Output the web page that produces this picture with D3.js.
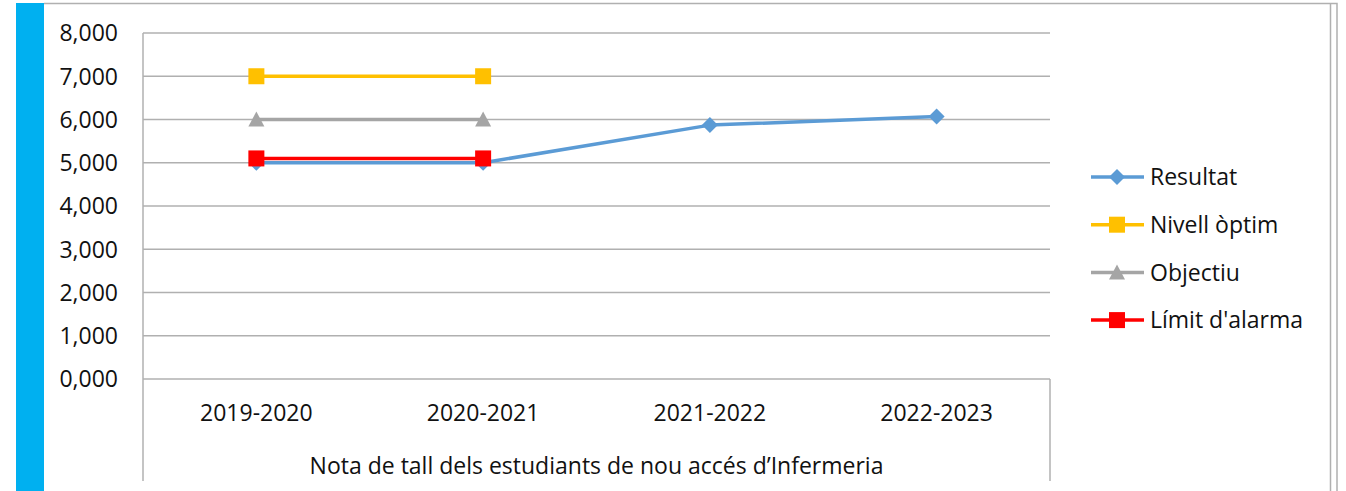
<!DOCTYPE html>
<html>
<head>
<meta charset="utf-8">
<script src="https://cdn.jsdelivr.net/npm/d3@7"></script>
<style>
  html, body { margin: 0; padding: 0; background: #fff; }
  svg { display: block; font-family: 'Open Sans', sans-serif; }
</style>
</head>
<body>
<svg id="chart" width="1346" height="491"></svg>
<script>
// data
const years = ['2019-2020', '2020-2021', '2021-2022', '2022-2023']
const resultat = [5.0, 5.0, 5.87, 6.07]
const nivellOptim = [7.0, 7.0, null, null]
const objectiu = [6.0, 6.0, null, null]
const limitAlarma = [5.1, 5.1, null, null]
const yTicks = [0, 1, 2, 3, 4, 5, 6, 7, 8]
const xTitle = 'Nota de tall dels estudiants de nou accés d\u2019Infermeria'

const series = [
  { name: 'Resultat', values: resultat, color: '#5b9bd5', shape: 'diamond' },
  { name: 'Nivell òptim', values: nivellOptim, color: '#ffc000', shape: 'square' },
  { name: 'Objectiu', values: objectiu, color: '#a5a5a5', shape: 'triangle' },
  { name: "Límit d'alarma", values: limitAlarma, color: '#ff0000', shape: 'square' }
]

const PLOT = { left: 143, right: 1050, top: 33, bottom: 379 }
const FONT = 23

const svg = d3.select('#chart')

// frame
svg.append('rect').attr('x', 16).attr('y', 3).attr('width', 28).attr('height', 488).attr('fill', '#00b0f0')
svg.append('path').attr('fill', 'none').attr('stroke', '#b0b0b0').attr('stroke-width', 1.5)
  .attr('d', 'M44,3.5H1337V491')
svg.append('path').attr('fill', 'none').attr('stroke', '#b0b0b0').attr('stroke-width', 1.5)
  .attr('d', 'M1330.5,4V491')

const x = d3.scaleBand().domain(years).range([PLOT.left, PLOT.right]).padding(0)
const y = d3.scaleLinear().domain([0, 8]).range([PLOT.bottom, PLOT.top])
const fmt = v => d3.format('.3f')(v).replace('.', ',')

// gridlines
svg.append('g').selectAll('line').data(yTicks).join('line')
  .attr('x1', PLOT.left).attr('x2', PLOT.right)
  .attr('y1', d => y(d)).attr('y2', d => y(d))
  .attr('stroke', '#b0b0b0').attr('stroke-width', 1.5)

// y labels
svg.append('g').attr('font-size', FONT).attr('fill', '#111').attr('text-anchor', 'end')
  .selectAll('text').data(yTicks).join('text')
  .attr('x', 118).attr('y', d => y(d)).attr('dy', '0.36em')
  .text(fmt)

// category box lines
svg.append('path').attr('fill', 'none').attr('stroke', '#b0b0b0').attr('stroke-width', 1.5)
  .attr('d', 'M' + PLOT.left + ',' + PLOT.top + 'V481')
svg.append('path').attr('fill', 'none').attr('stroke', '#b0b0b0').attr('stroke-width', 1.5)
  .attr('d', 'M' + PLOT.right + ',' + PLOT.bottom + 'V481')

// category labels
svg.append('g').attr('font-size', FONT).attr('fill', '#111').attr('text-anchor', 'middle')
  .selectAll('text').data(years).join('text')
  .attr('x', d => x(d) + x.bandwidth() / 2).attr('y', 421)
  .text(d => d)

svg.append('text').attr('x', (PLOT.left + PLOT.right) / 2).attr('y', 474)
  .attr('font-size', FONT).attr('fill', '#111').attr('text-anchor', 'middle')
  .text(xTitle)

// markers
function marker(sel, shape, color) {
  if (shape === 'square') {
    sel.append('rect').attr('x', -8).attr('y', -8).attr('width', 16).attr('height', 16).attr('fill', color)
  } else if (shape === 'diamond') {
    sel.append('path').attr('d', 'M0,-8L8,0L0,8L-8,0Z').attr('fill', color)
  } else {
    sel.append('path').attr('d', 'M0,-8L8,7L-8,7Z').attr('fill', color)
  }
}

const line = d3.line()
  .defined(d => d.v != null)
  .x(d => x(d.k) + x.bandwidth() / 2)
  .y(d => y(d.v))

// draw Resultat first, alarm last (on top)
series.forEach(s => {
  const pts = years.map((k, i) => ({ k: k, v: s.values[i] }))
  svg.append('path').datum(pts)
    .attr('fill', 'none').attr('stroke', s.color).attr('stroke-width', 3.5)
    .attr('stroke-linejoin', 'round')
    .attr('d', line)
  pts.filter(d => d.v != null).forEach(d => {
    const g = svg.append('g').attr('transform', 'translate(' + (x(d.k) + x.bandwidth() / 2) + ',' + y(d.v) + ')')
    marker(g, s.shape, s.color)
  })
})

// legend
const legend = svg.append('g')
series.forEach((s, i) => {
  const ly = 177 + i * 47.7
  const g = legend.append('g').attr('transform', 'translate(0,' + ly + ')')
  g.append('line').attr('x1', 1091).attr('x2', 1144).attr('stroke', s.color).attr('stroke-width', 3.5)
  marker(g.append('g').attr('transform', 'translate(1117,0)'), s.shape, s.color)
  g.append('text').attr('x', 1150).attr('dy', '0.36em').attr('font-size', FONT).attr('fill', '#111').text(s.name)
})
</script>
</body>
</html>
